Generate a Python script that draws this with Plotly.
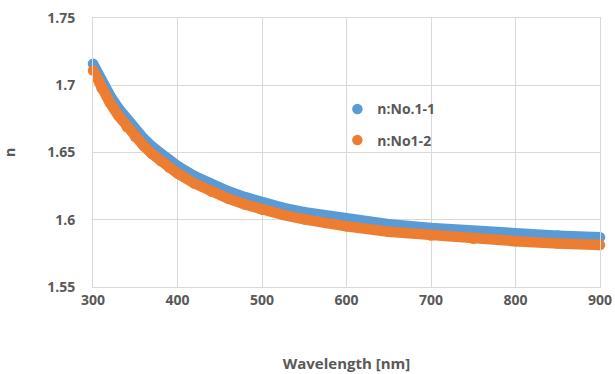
import plotly.graph_objects as go

wavelength = [300, 310, 320, 330, 340, 350, 360, 370, 380, 390, 400, 420, 440, 460, 480,
              500, 525, 550, 575, 600, 650, 700, 750, 800, 850, 900]
n_no1_1 = [1.7160, 1.7035, 1.6925, 1.6830, 1.6745, 1.6670, 1.6604, 1.6544, 1.6491, 1.6443,
           1.6400, 1.6325, 1.6264, 1.6212, 1.6168, 1.6125, 1.6089, 1.6057, 1.6030, 1.6006,
           1.5967, 1.5938, 1.5915, 1.5897, 1.5882, 1.5870]
n_no1_2 = [1.7110, 1.6980, 1.6870, 1.6775, 1.6690, 1.6615, 1.6549, 1.6489, 1.6436, 1.6388,
           1.6345, 1.6270, 1.6209, 1.6157, 1.6113, 1.6075, 1.6036, 1.6003, 1.5975, 1.5951,
           1.5911, 1.5882, 1.5858, 1.5840, 1.5824, 1.5812]
series_names = ["n:No.1-1", "n:No1-2"]
colors = ["#5B9BD5", "#ED7D31"]
x_ticks = [300, 400, 500, 600, 700, 800, 900]
y_ticks = [1.55, 1.6, 1.65, 1.7, 1.75]
y_ticklabels = ["1.55", "1.6", "1.65", "1.7", "1.75"]

fig = go.Figure()
for i, (ys, name) in enumerate(zip([n_no1_1, n_no1_2], series_names)):
    fig.add_trace(go.Scatter(
        x=wavelength, y=ys, mode="lines", line=dict(color=colors[i], width=10.5),
        showlegend=False, hoverinfo="skip", cliponaxis=False))
    fig.add_trace(go.Scatter(
        x=wavelength, y=ys, mode="markers", name=name, cliponaxis=False,
        marker=dict(color=colors[i], size=10.5), legendgroup=name))

font_family = "Open Sans"
tick_color = "#595959"
grid = "#d9d9d9"

fig.update_layout(
    width=615, height=374,
    margin=dict(l=93, r=15, t=18, b=87, autoexpand=False),
    paper_bgcolor="white", plot_bgcolor="white",
    font=dict(family=font_family, color=tick_color),
    legend=dict(x=0.482, y=0.72, xanchor="left", yanchor="top",
                bgcolor="rgba(0,0,0,0)",
                font=dict(size=14, color=tick_color, family=font_family, weight="bold"),
                tracegroupgap=10, itemwidth=30),
    xaxis=dict(range=[300, 900], tickvals=x_ticks, showgrid=True, gridcolor=grid, gridwidth=1,
               showline=True, linecolor=grid, mirror=True, zeroline=False, automargin=False,
               tickfont=dict(size=14, color=tick_color, family=font_family, weight="bold"),
               ticklabelstandoff=0,
               title=dict(text="<b>Wavelength [nm]</b>", font=dict(size=15, color=tick_color),
                          standoff=50)),
    yaxis=dict(range=[1.55, 1.75], tickvals=y_ticks, ticktext=y_ticklabels, showgrid=True,
               gridcolor=grid, gridwidth=1, showline=True, linecolor=grid, mirror=True,
               zeroline=False, ticklabelstandoff=14, automargin=False,
               tickfont=dict(size=14, color=tick_color, family=font_family, weight="bold"),
               title=dict(text="<b>n</b>", font=dict(size=14, color=tick_color), standoff=32)),
)

fig.write_html(
    "out.html",
    config={"displayModeBar": False},
    post_script="document.body.style.margin='0';document.body.style.overflow='hidden';",
)
